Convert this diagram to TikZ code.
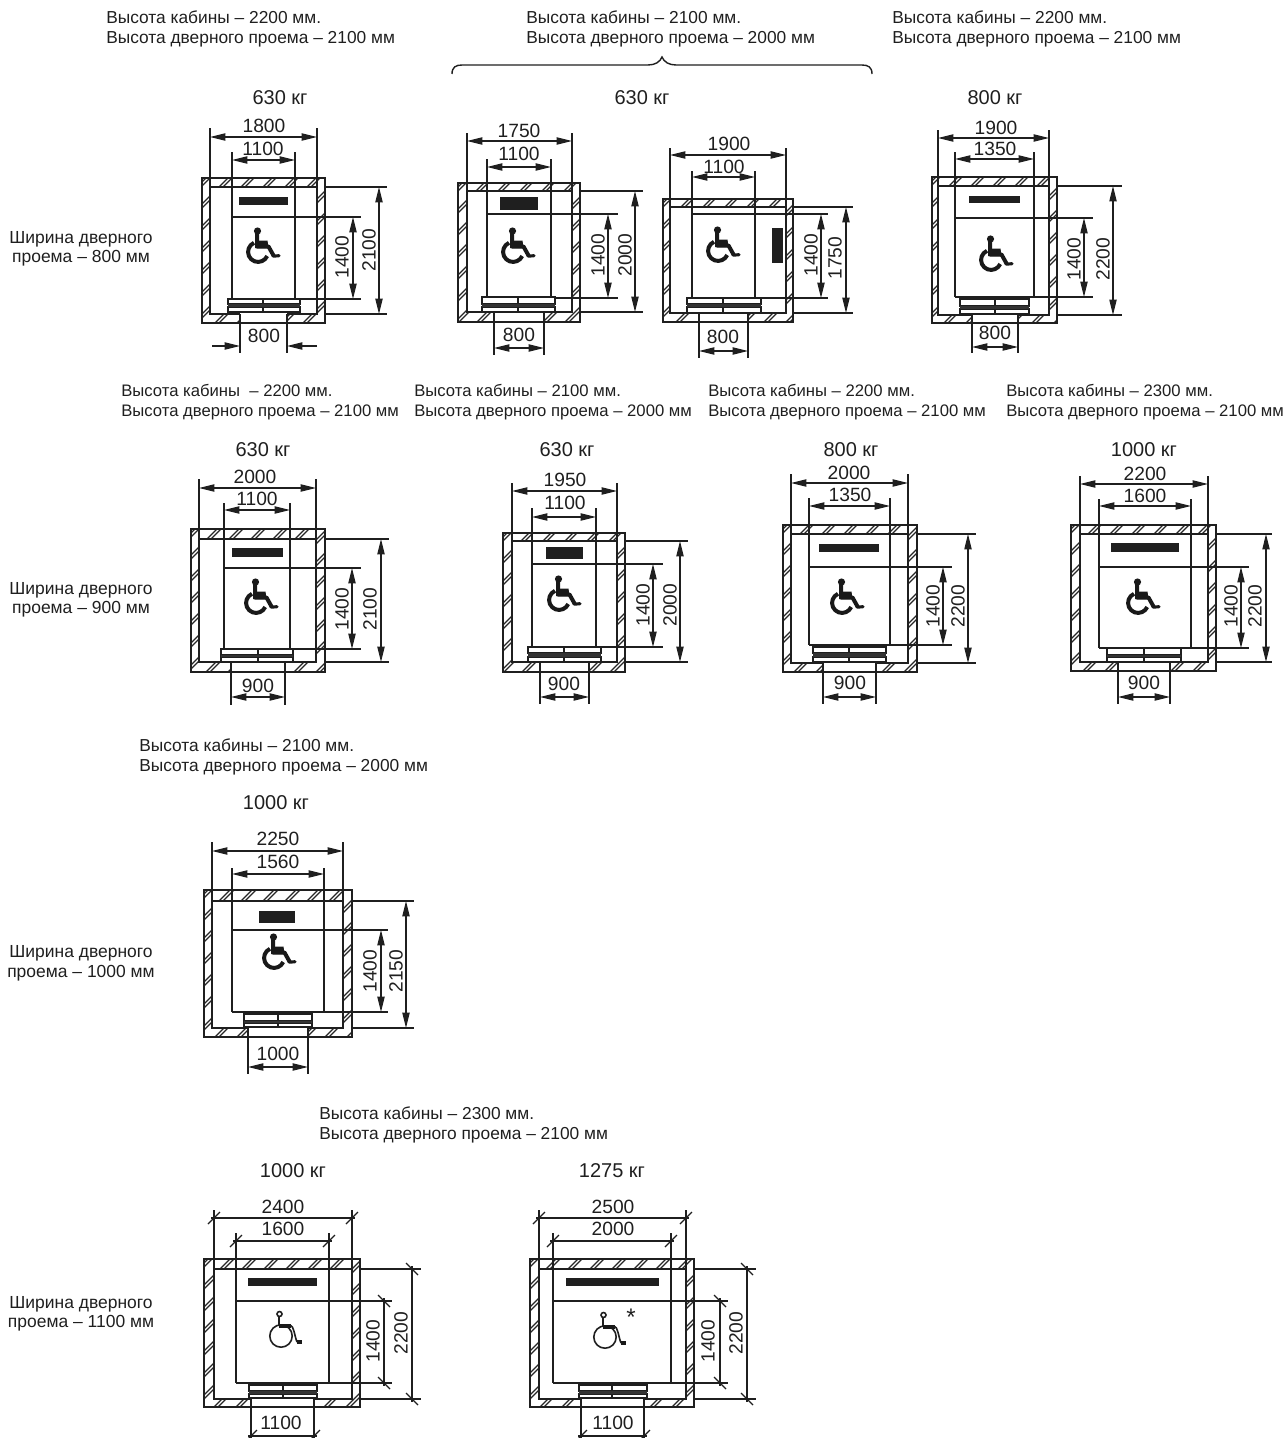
\documentclass[tikz,border=0pt]{standalone}
\usepackage{fontspec}
\setmainfont{Liberation Sans}
\usetikzlibrary{arrows.meta}
\newcounter{tn}
\pgfkeys{/lift/.is family}
\pgfkeys{/lift/.cd,
  L/.initial=0,R/.initial=0,T/.initial=0,B/.initial=0,
  iL/.initial=0,iR/.initial=0,iT/.initial=0,iB/.initial=0,
  cl/.initial=0,cr/.initial=0,ct/.initial=0,cb/.initial=0,
  w1t/.initial=0,w1y/.initial=0,w1ty/.initial=0,w1tx/.initial=0,w1s/.initial=0,
  w2t/.initial=0,w2y/.initial=0,w2ty/.initial=0,w2tx/.initial=0,w2s/.initial=0,
  dl/.initial=0,dr/.initial=0,dy/.initial=0,dbot/.initial=0,dty/.initial=0,dtx/.initial=0,ds/.initial=0,
  h1x/.initial=0,h1e/.initial=0,h1tx/.initial=0,h1ty/.initial=0,h1s/.initial=0,
  h2x/.initial=0,h2e/.initial=0,h2tx/.initial=0,h2ty/.initial=0,
  pl/.initial=0,pr/.initial=0,pt/.initial=0,pb/.initial=0,
  wx/.initial=0,wy/.initial=0,
  sl/.initial=0,sr/.initial=0,sa/.initial=0,sb/.initial=0,sc/.initial=0,sd/.initial=0,sm/.initial=0,
  ticks/.initial=0,doorout/.initial=0,thin/.initial=0}
\newcommand\lv[1]{\pgfkeysvalueof{/lift/#1}}
\tikzset{
  px/.style={x=0.75pt,y=-0.75pt},
  thinline/.style={line width=1.05pt,black!88},
  wall/.style={line width=1.7pt,black!88},
  hatchline/.style={line width=0.85pt,black!85},
  dimline/.style={line width=0.95pt,black!88},
  dimarrow/.style={dimline,{Stealth[inset=0pt,length=11.5pt,width=5.4pt]}-{Stealth[inset=0pt,length=11.5pt,width=5.4pt]}},
  onearrow/.style={dimline,-{Stealth[inset=0pt,length=11.5pt,width=5.4pt]}},
  tickline/.style={line width=0.95pt,black!88},
  dimtext/.style={inner sep=0pt,font=\fontsize{14.4}{15}\selectfont,text=black!88},
  caption/.style={anchor=base west,inner sep=0pt,font=\fontsize{13}{15}\selectfont,text=black!88},
  captionb/.style={anchor=base west,inner sep=0pt,font=\fontsize{12.5}{15}\selectfont,text=black!88},
  masstext/.style={inner sep=0pt,font=\fontsize{15}{16}\selectfont,text=black!88},
  widthcap/.style={anchor=base,inner sep=0pt,font=\fontsize{13.1}{15}\selectfont,text=black!88}
}
\newcommand\capa[4]{%
  \stepcounter{tn}\node[caption] (c\thetn) at (#1,#2+4.7) {Высота кабины#4 – #3 мм.};}
\newcommand\capb[3]{%
  \stepcounter{tn}\node[caption] (c\thetn) at (#1,#2+4.7) {Высота дверного проема – #3 мм};}
\newcommand\capc[4]{%
  \stepcounter{tn}\node[captionb] (c\thetn) at (#1,#2+4.7) {Высота кабины#4 – #3 мм.};}
\newcommand\capd[3]{%
  \stepcounter{tn}\node[captionb] (c\thetn) at (#1,#2+4.7) {Высота дверного проема – #3 мм};}
\newcommand\mass[3]{%
  \stepcounter{tn}\node[masstext] (m\thetn) at (#1,#2) {#3};}
\newcommand\wcap[3]{%
  \stepcounter{tn}\node[widthcap] (w\thetn) at (81,#1+4.7) {Ширина дверного};
  \stepcounter{tn}\node[widthcap] (w\thetn) at (81,#2+4.7) {проема – #3 мм};}
% wheelchair, bold
\newcommand\wheelbold[2]{%
  \begin{scope}[shift={(#1,#2)}]
    \fill[black!90] (-0.5,-21) circle[radius=3.6];
    \draw[black!90,line width=3pt] (-4,-9.2) arc[start angle=246,end angle=24,radius=10];
    \draw[black!90,line width=3pt,line join=round] (-1,-19) -- (-1,-5.5) -- (10.5,-5.5) -- (15.5,3.5);
    \fill[black!90] (-3,-11.5) -- (9.5,-11.5) -- (10.5,-4) -- (-3,-4) -- cycle;
    \draw[black!90,line width=2.4pt,line cap=round] (15,4) -- (21,3.8);
  \end{scope}}
% wheelchair, thin
\newcommand\wheelthin[2]{%
  \begin{scope}[shift={(#1,#2)}]
    \draw[black!88,line width=1.2pt] (0,0) circle[radius=11.2];
    \draw[black!88,line width=1.2pt] (-1.5,-22) circle[radius=2.5];
    \draw[black!88,line width=1.2pt] (-2,-19.5) -- (-2,-10);
    \draw[black!90,line width=2.4pt] (-2,-10) -- (10,-10);
    \draw[black!88,line width=1.2pt] (9,-11) .. controls (13,-10) and (13,-2) .. (16,6);
    \draw[black!90,line width=2.4pt] (16,6) -- (21,6);
  \end{scope}}
\newcommand\lift[1]{%
\begingroup
  \pgfkeys{/lift/.cd,#1}%
  % hatching of the walls
  \begin{scope}
    \clip (\lv{L},\lv{T}) rectangle (\lv{R},\lv{iT})
          (\lv{L},\lv{T}) rectangle (\lv{iL},\lv{B})
          (\lv{iR},\lv{T}) rectangle (\lv{R},\lv{B})
          (\lv{L},\lv{iB}) rectangle (\lv{dl},\lv{B})
          (\lv{dr},\lv{iB}) rectangle (\lv{R},\lv{B});
    \foreach \k in {0,...,14} {
      \pgfmathsetmacro\cc{\lv{L}+\lv{T}+4+\k*22}
      \pgfmathsetmacro\xa{\cc-\lv{T}}
      \pgfmathsetmacro\xb{\cc-\lv{B}}
      \draw[hatchline] (\xa,\lv{T}) -- (\xb,\lv{B});
      \draw[hatchline] (\xa+4,\lv{T}) -- (\xb+4,\lv{B});
    }
  \end{scope}
  % walls
  \draw[wall] (\lv{L},\lv{T}) rectangle (\lv{R},\lv{B});
  \draw[thinline] (\lv{dl},\lv{iB}) -- (\lv{iL},\lv{iB}) -- (\lv{iL},\lv{iT}) -- (\lv{iR},\lv{iT}) -- (\lv{iR},\lv{iB}) -- (\lv{dr},\lv{iB});
  % cabin
  \draw[thinline] (\lv{cl},\lv{w2t}) -- (\lv{cl},\lv{cb}) (\lv{cr},\lv{w2t}) -- (\lv{cr},\lv{cb});
  \draw[thinline] (\lv{cl},\lv{ct}) -- (\lv{h2e},\lv{ct});
  \draw[thinline] (\lv{cl},\lv{cb}) -- (\lv{h2e},\lv{cb});
  % counterweight bar
  \fill[black!88] (\lv{pl},\lv{pt}) rectangle (\lv{pr},\lv{pb});
  % sills
  \draw[thinline,fill=white] (\lv{sl},\lv{sa}) rectangle (\lv{sr},\lv{sb});
  \draw[thinline,fill=white] (\lv{sl},\lv{sc}) rectangle (\lv{sr},\lv{sd});
  \draw[thinline] (\lv{sm},\lv{sa}) -- (\lv{sm},\lv{sb}) (\lv{sm},\lv{sc}) -- (\lv{sm},\lv{sd});
  \fill[black!80] (\lv{sl},\lv{sb}) rectangle (\lv{sr},\lv{sc});
  % extension lines
  \draw[thinline] (\lv{iL},\lv{w1t}) -- (\lv{iL},\lv{iT}) (\lv{iR},\lv{w1t}) -- (\lv{iR},\lv{iT});
  \draw[thinline] (\lv{dl},\lv{iB}) -- (\lv{dl},\lv{dbot}) (\lv{dr},\lv{iB}) -- (\lv{dr},\lv{dbot});
  \draw[thinline] (\lv{R},\lv{iT}) -- (\lv{h1e},\lv{iT}) (\lv{R},\lv{iB}) -- (\lv{h1e},\lv{iB});
  % dimension lines
  \ifnum\lv{ticks}=1
    \draw[thinline] (\lv{iL}-3,\lv{w1y}) -- (\lv{iR}+3,\lv{w1y});
    \draw[tickline] (\lv{iL}-6,\lv{w1y}+6) -- (\lv{iL}+6,\lv{w1y}-6) (\lv{iR}-6,\lv{w1y}+6) -- (\lv{iR}+6,\lv{w1y}-6);
    \draw[thinline] (\lv{cl}-3,\lv{w2y}) -- (\lv{cr}+3,\lv{w2y});
    \draw[tickline] (\lv{cl}-6,\lv{w2y}+6) -- (\lv{cl}+6,\lv{w2y}-6) (\lv{cr}-6,\lv{w2y}+6) -- (\lv{cr}+6,\lv{w2y}-6);
    \draw[thinline] (\lv{dl}-3,\lv{dy}) -- (\lv{dr}+3,\lv{dy});
    \draw[tickline] (\lv{dl}-6,\lv{dy}+6) -- (\lv{dl}+6,\lv{dy}-6) (\lv{dr}-6,\lv{dy}+6) -- (\lv{dr}+6,\lv{dy}-6);
    \draw[thinline] (\lv{h1x},\lv{iT}-3) -- (\lv{h1x},\lv{iB}+3);
    \draw[tickline] (\lv{h1x}-6,\lv{iT}-6) -- (\lv{h1x}+6,\lv{iT}+6) (\lv{h1x}-6,\lv{iB}-6) -- (\lv{h1x}+6,\lv{iB}+6);
    \draw[thinline] (\lv{h2x},\lv{ct}-3) -- (\lv{h2x},\lv{cb}+3);
    \draw[tickline] (\lv{h2x}-6,\lv{ct}-6) -- (\lv{h2x}+6,\lv{ct}+6) (\lv{h2x}-6,\lv{cb}-6) -- (\lv{h2x}+6,\lv{cb}+6);
  \else
    \draw[dimarrow] (\lv{iL},\lv{w1y}) -- (\lv{iR},\lv{w1y});
    \draw[dimarrow] (\lv{cl},\lv{w2y}) -- (\lv{cr},\lv{w2y});
    \draw[dimarrow] (\lv{h1x},\lv{iT}) -- (\lv{h1x},\lv{iB});
    \draw[dimarrow] (\lv{h2x},\lv{ct}) -- (\lv{h2x},\lv{cb});
    \ifnum\lv{doorout}=1
      \draw[onearrow] (\lv{dl}-28,\lv{dy}) -- (\lv{dl},\lv{dy});
      \draw[onearrow] (\lv{dr}+30,\lv{dy}) -- (\lv{dr},\lv{dy});
    \else
      \draw[dimarrow] (\lv{dl},\lv{dy}) -- (\lv{dr},\lv{dy});
    \fi
  \fi
  % dimension texts
  \stepcounter{tn}\node[dimtext] (d\thetn) at (\lv{w1tx},\lv{w1ty}) {\lv{w1s}};
  \stepcounter{tn}\node[dimtext] (d\thetn) at (\lv{w2tx},\lv{w2ty}) {\lv{w2s}};
  \stepcounter{tn}\node[dimtext] (d\thetn) at (\lv{dtx},\lv{dty}) {\lv{ds}};
  \stepcounter{tn}\node[dimtext,rotate=90] (d\thetn) at (\lv{h1tx},\lv{h1ty}) {\lv{h1s}};
  \stepcounter{tn}\node[dimtext,rotate=90] (d\thetn) at (\lv{h2tx},\lv{h2ty}) {1400};
  % wheelchair
  \ifnum\lv{thin}=1 \wheelthin{\lv{wx}}{\lv{wy}}\else \wheelbold{\lv{wx}}{\lv{wy}}\fi
\endgroup}
\begin{document}
\begin{tikzpicture}[px]
\useasboundingbox (0,0) rectangle (1285,1438);
\clip (0,0) rectangle (1285,1438);
% captions
\capa{106}{19}{2200}{}\capb{106}{39}{2100}
\capa{526}{19}{2100}{}\capb{526}{39}{2000}
\capa{892}{19}{2200}{}\capb{892}{39}{2100}
\capc{121}{392}{2200}{\ }\capd{121}{412}{2100}
\capc{414}{392}{2100}{}\capd{414}{412}{2000}
\capc{708}{392}{2200}{}\capd{708}{412}{2100}
\capc{1006}{392}{2300}{}\capd{1006}{412}{2100}
\capa{139}{747}{2100}{}\capb{139}{767}{2000}
\capa{319}{1115}{2300}{}\capb{319}{1135}{2100}
% brace
\draw[thinline] (452,74) .. controls (452,67) and (456,65) .. (462,65) -- (648,65)
  .. controls (655,65) and (660,62) .. (662,57) .. controls (664,62) and (669,65) .. (676,65)
  -- (862,65) .. controls (868,65) and (872,67) .. (872,74);
% loads
\mass{280}{98}{630 кг}\mass{642}{98}{630 кг}\mass{995}{98}{800 кг}
\mass{263}{450}{630 кг}\mass{567}{450}{630 кг}\mass{851}{450}{800 кг}\mass{1144}{450}{1000 кг}
\mass{276}{803}{1000 кг}
\mass{293}{1171}{1000 кг}\mass{612}{1171}{1275 кг}
% door widths
\wcap{239}{258}{800}
\wcap{590}{609}{900}
\wcap{953}{973}{1000}
\wcap{1304}{1323}{1100}
% units
\lift{L=202,R=325,T=178,B=323,iL=210,iR=317,iT=187,iB=314,cl=232,cr=295,ct=217,cb=299,
  w1t=128,w1y=137,w1ty=126,w1tx=264,w1s=1800,w2t=152,w2y=160,w2ty=149,w2tx=263,w2s=1100,
  dl=240,dr=287,dy=346,dbot=353,dty=336,dtx=264,ds=800,doorout=1,
  h1x=379,h1e=387,h1tx=369,h1ty=250,h1s=2100,h2x=353,h2e=361,h2tx=342,h2ty=257,
  pl=239,pr=288,pt=197,pb=205,wx=258,wy=252,sl=228,sr=300,sa=299,sb=304,sc=307,sd=312,sm=263}
\lift{L=458,R=580,T=183,B=322,iL=467,iR=572,iT=191,iB=312,cl=487,cr=551,ct=214,cb=298,
  w1t=133,w1y=141,w1ty=131,w1tx=519,w1s=1750,w2t=159,w2y=167,w2ty=154,w2tx=519,w2s=1100,
  dl=494,dr=544,dy=348,dbot=355,dty=335,dtx=519,ds=800,
  h1x=635,h1e=643,h1tx=625,h1ty=255,h1s=2000,h2x=608,h2e=618,h2tx=598,h2ty=255,
  pl=500,pr=538,pt=197,pb=210,wx=513,wy=252,sl=482,sr=555,sa=297,sb=304,sc=307,sd=312,sm=518}
\lift{L=663,R=793,T=199,B=322,iL=670,iR=786,iT=207,iB=313,cl=692,cr=755,ct=214,cb=298,
  w1t=148,w1y=155,w1ty=144,w1tx=729,w1s=1900,w2t=171,w2y=177,w2ty=167,w2tx=724,w2s=1100,
  dl=699,dr=748,dy=351,dbot=358,dty=337,dtx=723,ds=800,
  h1x=846,h1e=853,h1tx=835,h1ty=258,h1s=1750,h2x=821,h2e=828,h2tx=811,h2ty=255,
  pl=772,pr=783,pt=228,pb=263,wx=718,wy=251,sl=687,sr=761,sa=298,sb=304,sc=307,sd=313,sm=723}
\lift{L=932,R=1057,T=177,B=323,iL=938,iR=1049,iT=186,iB=315,cl=955,cr=1034,ct=218,cb=297,
  w1t=130,w1y=138,w1ty=128,w1tx=996,w1s=1900,w2t=152,w2y=159,w2ty=149,w2tx=995,w2s=1350,
  dl=972,dr=1018,dy=347,dbot=353,dty=333,dtx=995,ds=800,
  h1x=1113,h1e=1122,h1tx=1103,h1ty=259,h1s=2200,h2x=1084,h2e=1093,h2tx=1074,h2ty=259,
  pl=969,pr=1020,pt=196,pb=203,wx=991,wy=260,sl=960,sr=1029,sa=299,sb=306,sc=309,sd=314,sm=995}
\lift{L=191,R=325,T=529,B=672,iL=199,iR=316,iT=539,iB=662,cl=224,cr=290,ct=568,cb=649,
  w1t=479,w1y=488,w1ty=477,w1tx=255,w1s=2000,w2t=503,w2y=510,w2ty=499,w2tx=257,w2s=1100,
  dl=231,dr=285,dy=697,dbot=705,dty=686,dtx=258,ds=900,
  h1x=381,h1e=389,h1tx=370,h1ty=609,h1s=2100,h2x=352,h2e=361,h2tx=342,h2ty=609,
  pl=232,pr=283,pt=548,pb=557,wx=256,wy=603,sl=221,sr=293,sa=649,sb=655,sc=657,sd=662,sm=258}
\lift{L=503,R=625,T=533,B=672,iL=512,iR=617,iT=541,iB=662,cl=532,cr=596,ct=564,cb=647,
  w1t=483,w1y=491,w1ty=480,w1tx=565,w1s=1950,w2t=508,w2y=517,w2ty=503,w2tx=565,w2s=1100,
  dl=540,dr=589,dy=697,dbot=704,dty=684,dtx=564,ds=900,
  h1x=680,h1e=688,h1tx=670,h1ty=605,h1s=2000,h2x=653,h2e=663,h2tx=643,h2ty=605,
  pl=546,pr=583,pt=547,pb=559,wx=559,wy=600,sl=528,sr=601,sa=647,sb=653,sc=657,sd=662,sm=564}
\lift{L=783,R=917,T=525,B=672,iL=791,iR=908,iT=534,iB=663,cl=809,cr=890,ct=567,cb=645,
  w1t=474,w1y=483,w1ty=473,w1tx=849,w1s=2000,w2t=498,w2y=506,w2ty=495,w2tx=850,w2s=1350,
  dl=823,dr=876,dy=697,dbot=704,dty=683,dtx=850,ds=900,
  h1x=968,h1e=976,h1tx=958,h1ty=606,h1s=2200,h2x=943,h2e=952,h2tx=933,h2ty=606,
  pl=819,pr=879,pt=544,pb=552,wx=842,wy=603,sl=813,sr=886,sa=647,sb=653,sc=657,sd=662,sm=849}
\lift{L=1071,R=1216,T=525,B=671,iL=1080,iR=1208,iT=534,iB=662,cl=1099,cr=1191,ct=567,cb=648,
  w1t=476,w1y=484,w1ty=474,w1tx=1145,w1s=2200,w2t=499,w2y=506,w2ty=496,w2tx=1145,w2s=1600,
  dl=1118,dr=1170,dy=697,dbot=704,dty=683,dtx=1144,ds=900,
  h1x=1266,h1e=1272,h1tx=1255,h1ty=606,h1s=2200,h2x=1241,h2e=1249,h2tx=1231,h2ty=606,
  pl=1111,pr=1179,pt=543,pb=552,wx=1138,wy=603,sl=1107,sr=1181,sa=648,sb=655,sc=657,sd=662,sm=1144}
\lift{L=204,R=352,T=890,B=1037,iL=212,iR=343,iT=901,iB=1028,cl=232,cr=324,ct=930,cb=1012,
  w1t=842,w1y=851,w1ty=839,w1tx=278,w1s=2250,w2t=868,w2y=874,w2ty=862,w2tx=278,w2s=1560,
  dl=248,dr=308,dy=1067,dbot=1074,dty=1054,dtx=278,ds=1000,
  h1x=406,h1e=414,h1tx=396,h1ty=971,h1s=2150,h2x=381,h2e=388,h2tx=370,h2ty=971,
  pl=259,pr=295,pt=911,pb=923,wx=274,wy=958,sl=244,sr=312,sa=1014,sb=1021,sc=1023,sd=1027,sm=278}
\lift{L=204,R=360,T=1259,B=1407,iL=214,iR=352,iT=1269,iB=1399,cl=236,cr=329,ct=1301,cb=1383,
  w1t=1210,w1y=1218,w1ty=1207,w1tx=283,w1s=2400,w2t=1233,w2y=1241,w2ty=1229,w2tx=283,w2s=1600,
  dl=251,dr=314,dy=1436,dbot=1440,dty=1423,dtx=281,ds=1100,ticks=1,thin=1,
  h1x=412,h1e=421,h1tx=401,h1ty=1333,h1s=2200,h2x=384,h2e=392,h2tx=373,h2ty=1341,
  pl=248,pr=317,pt=1278,pb=1286,wx=281,wy=1336,sl=249,sr=317,sa=1385,sb=1391,sc=1394,sd=1398,sm=283}
\lift{L=530,R=694,T=1259,B=1407,iL=539,iR=686,iT=1269,iB=1399,cl=553,cr=671,ct=1301,cb=1383,
  w1t=1210,w1y=1218,w1ty=1207,w1tx=613,w1s=2500,w2t=1233,w2y=1241,w2ty=1229,w2tx=613,w2s=2000,
  dl=581,dr=644,dy=1436,dbot=1440,dty=1423,dtx=613,ds=1100,ticks=1,thin=1,
  h1x=747,h1e=756,h1tx=736,h1ty=1333,h1s=2200,h2x=720,h2e=728,h2tx=708,h2ty=1341,
  pl=566,pr=659,pt=1278,pb=1286,wx=605,wy=1337,sl=579,sr=647,sa=1385,sb=1391,sc=1394,sd=1398,sm=612}
\node[dimtext] (star) at (631,1317) {\fontsize{18}{18}\selectfont *};
\end{tikzpicture}
\end{document}
